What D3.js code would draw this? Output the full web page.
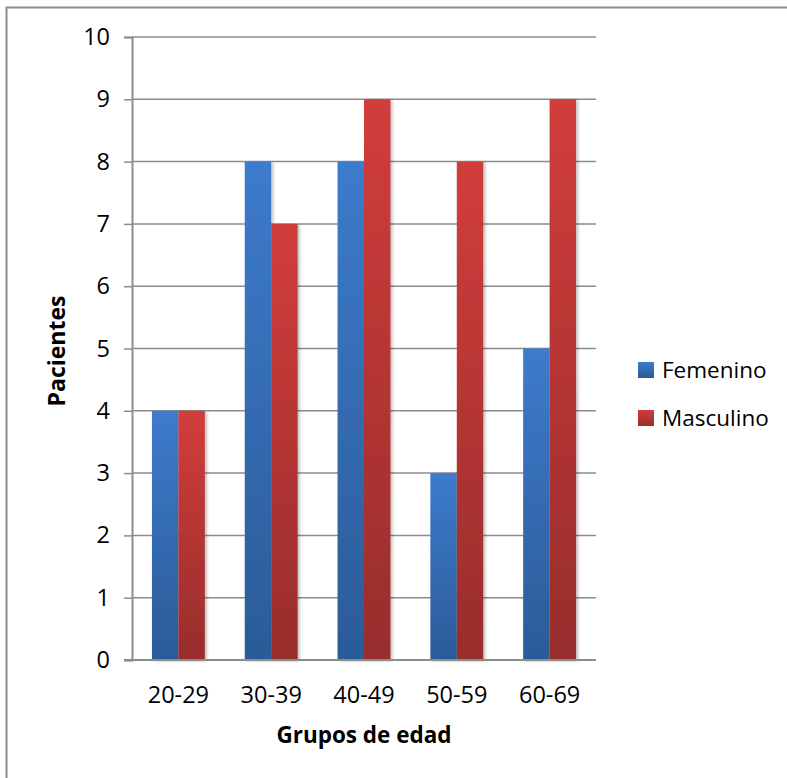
<!DOCTYPE html>
<html>
<head>
<meta charset="utf-8">
<script src="https://cdn.jsdelivr.net/npm/d3@7"></script>
<style>
  body { margin: 0; background: #fff; }
  text { font-family: "Open Sans", "Noto Sans", sans-serif; fill: #000; }
</style>
</head>
<body>
<svg id="chart" width="787" height="778"></svg>
<script>
var groups = ["20-29", "30-39", "40-49", "50-59", "60-69"];
var series = ["Femenino", "Masculino"];
var femenino = [4, 8, 8, 3, 5];
var masculino = [4, 7, 9, 8, 9];
var yTicks = [0, 1, 2, 3, 4, 5, 6, 7, 8, 9, 10];

var svg = d3.select("#chart");

var margin = {left: 132, top: 37, right: 596, bottom: 660};

var x0 = d3.scaleBand()
    .domain(groups)
    .range([margin.left, margin.right])
    .paddingInner(0.43)
    .paddingOuter(0.215);

var x1 = d3.scaleBand()
    .domain(series)
    .range([0, x0.bandwidth()]);

var y = d3.scaleLinear()
    .domain([0, 10])
    .range([margin.bottom, margin.top]);

// outer frame
svg.append("rect")
    .attr("x", 6.5).attr("y", 7.5)
    .attr("width", 800).attr("height", 800)
    .attr("fill", "none")
    .attr("stroke", "#8c8c8c")
    .attr("stroke-width", 2);

var defs = svg.append("defs");
var colors = {
  Femenino: ["#3d7bcc", "#2b5b97"],
  Masculino: ["#d13d3b", "#982d2c"]
};
series.forEach(function(s) {
  var g = defs.append("linearGradient")
      .attr("id", "grad-" + s)
      .attr("x1", 0).attr("y1", 0).attr("x2", 0).attr("y2", 1);
  g.append("stop").attr("offset", "0%").attr("stop-color", colors[s][0]);
  g.append("stop").attr("offset", "100%").attr("stop-color", colors[s][1]);
});
var shadow = defs.append("filter").attr("id", "shadow")
    .attr("x", "-20%").attr("y", "-5%").attr("width", "150%").attr("height", "110%");
shadow.append("feDropShadow")
    .attr("dx", 2).attr("dy", 1).attr("stdDeviation", 1.5)
    .attr("flood-color", "#000").attr("flood-opacity", 0.25);

// gridlines + y axis
var yAxis = d3.axisLeft(y).tickValues(yTicks).tickSize(8).tickPadding(14);
var gy = svg.append("g")
    .attr("transform", "translate(" + margin.left + ",0)")
    .call(yAxis);
gy.select(".domain").attr("stroke", "#8c8c8c").attr("stroke-width", 2);
gy.selectAll(".tick line").attr("stroke", "#8c8c8c").attr("stroke-width", 1.5);
gy.selectAll(".tick text")
    .style("font-size", "23.5px")
    .attr("font-family", null);

svg.append("g").selectAll("line")
  .data(yTicks.filter(function(d) { return d > 0; }))
  .enter().append("line")
    .attr("x1", margin.left).attr("x2", margin.right)
    .attr("y1", function(d) { return y(d); })
    .attr("y2", function(d) { return y(d); })
    .attr("stroke", "#8c8c8c")
    .attr("stroke-width", 1.5);

// bars
var data = groups.map(function(g, i) {
  return {group: g, values: [
    {key: "Femenino", value: femenino[i]},
    {key: "Masculino", value: masculino[i]}
  ]};
});

svg.append("g").selectAll("g")
  .data(data)
  .enter().append("g")
    .attr("transform", function(d) { return "translate(" + x0(d.group) + ",0)"; })
  .selectAll("rect")
  .data(function(d) { return d.values; })
  .enter().append("rect")
    .attr("x", function(d) { return x1(d.key); })
    .attr("y", function(d) { return y(d.value); })
    .attr("width", x1.bandwidth())
    .attr("height", function(d) { return y(0) - y(d.value); })
    .attr("fill", function(d) { return "url(#grad-" + d.key + ")"; })
    .attr("filter", "url(#shadow)");

// x axis
svg.append("line")
    .attr("x1", margin.left - 8).attr("x2", margin.right)
    .attr("y1", y(0)).attr("y2", y(0))
    .attr("stroke", "#8c8c8c").attr("stroke-width", 2);

var xAxis = d3.axisBottom(x0).tickSize(0).tickPadding(26);
var gx = svg.append("g")
    .attr("transform", "translate(0," + y(0) + ")")
    .call(xAxis);
gx.select(".domain").remove();
gx.selectAll(".tick text")
    .style("font-size", "23.5px")
    .attr("font-family", null);

// axis titles
svg.append("text")
    .attr("x", (margin.left + margin.right) / 2)
    .attr("y", 743)
    .attr("text-anchor", "middle")
    .style("font-size", "22.5px")
    .style("font-weight", "bold")
    .text("Grupos de edad");

svg.append("text")
    .attr("transform", "translate(65," + 351 + ") rotate(-90)")
    .attr("text-anchor", "middle")
    .style("font-size", "23px")
    .style("font-weight", "bold")
    .text("Pacientes");

// legend
var legend = svg.append("g").selectAll("g")
  .data(series)
  .enter().append("g")
    .attr("transform", function(d, i) { return "translate(638," + (362 + i * 48) + ")"; });

legend.append("rect")
    .attr("width", 16).attr("height", 16)
    .attr("fill", function(d) { return "url(#grad-" + d + ")"; });

legend.append("text")
    .attr("x", 24).attr("y", 8)
    .attr("dy", "0.36em")
    .style("font-size", "22.5px")
    .text(function(d) { return d; });
</script>
</body>
</html>
